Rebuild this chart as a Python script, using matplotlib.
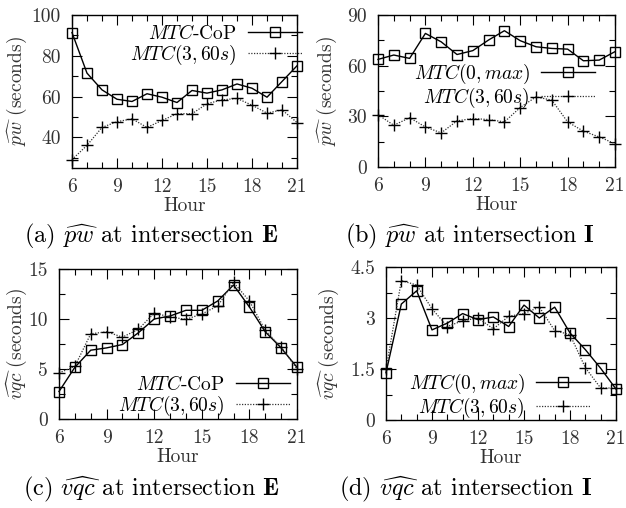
import numpy as np
import matplotlib
matplotlib.use('Agg')
import matplotlib.pyplot as plt
from matplotlib.ticker import MultipleLocator, FuncFormatter

plt.rcParams['font.family'] = ['cmr10', 'DejaVu Serif']
plt.rcParams['mathtext.fontset'] = 'cm'
plt.rcParams['axes.formatter.use_mathtext'] = True
plt.rcParams['font.size'] = 14

horas = np.arange(6, 22)

# (a) pw interseccion E
pw_e_cop = [91.4, 71.5, 63.3, 58.7, 57.6, 61.4, 59.7, 57.1, 63.0, 61.7, 63.3, 66.2, 64.1, 59.7, 67.4, 75.1]
pw_e_360 = [29.1, 36.1, 44.9, 47.7, 49.1, 44.9, 48.3, 51.6, 51.6, 56.5, 58.4, 59.1, 55.8, 51.9, 53.5, 47.3]
# (b) pw interseccion I
pw_i_0max = [63.7, 66.3, 64.3, 79.1, 74.1, 66.6, 68.9, 75.2, 80.7, 74.8, 71.2, 70.2, 69.8, 62.9, 63.3, 68.3]
pw_i_360 = [31.0, 24.7, 29.2, 23.7, 20.2, 27.3, 28.7, 28.1, 26.7, 35.2, 41.5, 39.6, 26.7, 21.2, 17.8, 13.8]
# (c) vqc interseccion E
vqc_e_cop = [2.75, 5.17, 6.88, 7.11, 7.45, 8.62, 10.0, 10.3, 10.87, 10.87, 11.8, 13.4, 11.2, 8.72, 7.11, 5.17]
vqc_e_360 = [4.6, 5.27, 8.52, 8.72, 8.19, 8.96, 10.6, 10.2, 9.97, 10.5, 11.3, 13.66, 11.8, 8.86, 7.18, 5.0]
# (d) vqc interseccion I
vqc_i_0max = [1.39, 3.41, 3.80, 2.65, 2.85, 3.13, 2.95, 3.03, 2.75, 3.38, 3.0, 3.32, 2.56, 2.07, 1.52, 0.91]
vqc_i_360 = [1.49, 4.10, 3.97, 3.27, 2.75, 2.92, 3.0, 2.68, 3.05, 3.13, 3.32, 2.63, 2.51, 1.54, 0.94, 0.94]

W, H = 626.0, 508.0
fig = plt.figure(figsize=(W / 100, H / 100), dpi=100)
gris = '#333333'


def ejes(l, r, t, b):
    return fig.add_axes([l / W, 1 - b / H, (r - l) / W, (b - t) / H])


def grafica(ax, y1, y2, lab1, lab2, ylim, ymaj, ylab, leg_xy, ylab_x):
    ax.plot(horas, y1, color='black', lw=1.0, marker='s', ms=6.5,
            mfc='none', mec='black', mew=1.0, label=lab1, clip_on=False, zorder=3)
    ax.plot(horas, y2, color=gris, lw=0.9, ls=(0, (1, 1.2)), marker='+',
            ms=9, mew=1.0, mec='black', label=lab2, clip_on=False, zorder=3)
    ax.set_xlim(6, 21)
    ax.set_ylim(*ylim)
    ax.xaxis.set_major_locator(MultipleLocator(3))
    ax.xaxis.set_minor_locator(MultipleLocator(1))
    ax.yaxis.set_major_locator(MultipleLocator(ymaj))
    ax.yaxis.set_minor_locator(MultipleLocator(ymaj / 2))
    ax.yaxis.set_major_formatter(FuncFormatter(lambda v, p: '%g' % v))
    ax.xaxis.set_major_formatter(FuncFormatter(lambda v, p: '%g' % v))
    ax.tick_params(which='both', direction='in', top=True, right=True,
                   colors='black', labelcolor=gris)
    ax.tick_params(which='major', length=7, width=0.8)
    ax.tick_params(which='minor', length=4, width=0.8)
    ax.tick_params(axis='x', pad=7)
    ax.tick_params(axis='y', pad=8)
    for s in ax.spines.values():
        s.set_linewidth(1.0)
    ax.set_xlabel('Hour', color=gris, labelpad=1)
    ax.set_ylabel(ylab, color=gris, va='center')
    # posicion de la etiqueta y en pixeles de figura
    pos = ax.get_position()
    ax.yaxis.set_label_coords((ylab_x - pos.x0 * W) / (pos.width * W), 0.5)
    ax.legend(loc='upper right', bbox_to_anchor=(leg_xy[0] / W, 1 - leg_xy[1] / H),
              bbox_transform=fig.transFigure, frameon=False, markerfirst=False,
              handlelength=2.8, handletextpad=0.55, borderpad=0, borderaxespad=0,
              labelspacing=0.0, fontsize=14)


ax_a = ejes(72, 297, 15, 168)
grafica(ax_a, pw_e_cop, pw_e_360, r'$MTC$-CoP', r'$MTC(3,60s)$', (25, 100), 20,
        r'$\widehat{pw}$ (seconds)', (302, 24), 17)
ax_b = ejes(378, 615, 15, 167)
grafica(ax_b, pw_i_0max, pw_i_360, r'$MTC(0,max)$', r'$MTC(3,60s)$', (0, 90), 30,
        r'$\widehat{pw}$ (seconds)', (595, 62), 327)
ax_c = ejes(59, 297, 269, 419)
grafica(ax_c, vqc_e_cop, vqc_e_360, r'$MTC$-CoP', r'$MTC(3,60s)$', (0, 15), 5,
        r'$\widehat{vqc}$ (seconds)', (290, 375), 17)
ax_d = ejes(386, 616, 267, 420)
grafica(ax_d, vqc_i_0max, vqc_i_360, r'$MTC(0,max)$', r'$MTC(3,60s)$', (0, 4.5), 1.5,
        r'$\widehat{vqc}$ (seconds)', (590, 372), 329)

pies = [(151, 236, r'(a) $\widehat{pw}$ at intersection $\mathbf{E}$'),
        (470, 236, r'(b) $\widehat{pw}$ at intersection $\mathbf{I}$'),
        (151, 489, r'(c) $\widehat{vqc}$ at intersection $\mathbf{E}$'),
        (466, 489, r'(d) $\widehat{vqc}$ at intersection $\mathbf{I}$')]
for x, y, t in pies:
    fig.text(x / W, 1 - y / H, t, ha='center', va='center', fontsize=17.5)

fig.savefig('out.png', dpi=100)
